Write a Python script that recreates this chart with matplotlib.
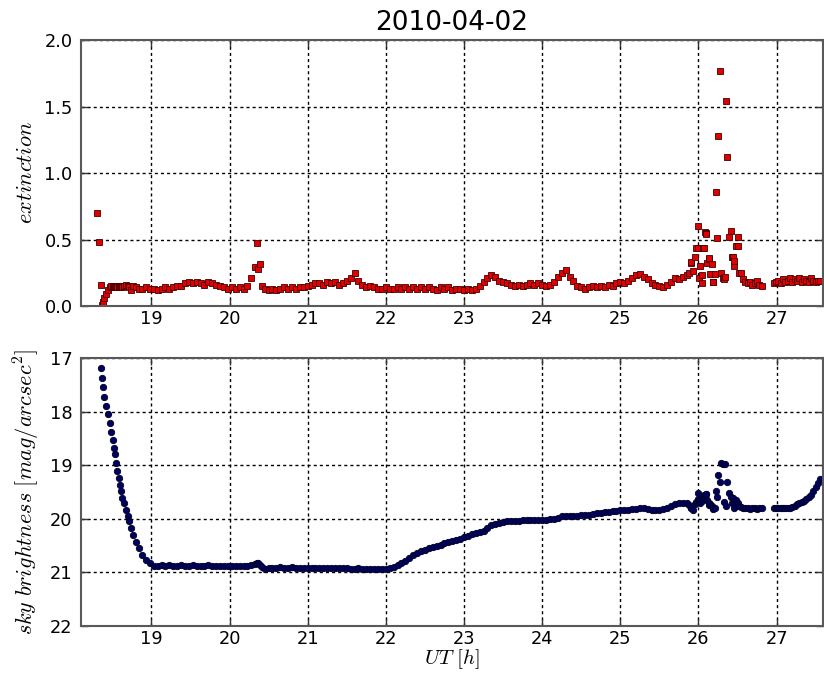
import numpy as np
import matplotlib
matplotlib.use("Agg")
import matplotlib.pyplot as plt

plt.rcParams['mathtext.fontset'] = 'cm'

title = "2010-04-02"

# UT time of each measurement [h]
ut = [
    18.30, 18.33, 18.36, 18.37, 18.385, 18.40, 18.42, 18.445, 18.47, 18.49,
    18.51, 18.525, 18.54, 18.55, 18.565, 18.58, 18.595, 18.615, 18.63, 18.65,
    18.675, 18.70, 18.72, 18.74, 18.77, 18.80, 18.84, 18.88, 18.93, 18.985,
    19.03, 19.08, 19.13, 19.18, 19.23, 19.28, 19.33, 19.38, 19.43, 19.48,
    19.53, 19.58, 19.63, 19.68, 19.73, 19.78, 19.83, 19.88, 19.93, 19.98,
    20.03, 20.08, 20.13, 20.18,
    20.23, 20.28, 20.32, 20.355, 20.37, 20.39, 20.41, 20.45,
    20.50, 20.55, 20.60, 20.65, 20.70, 20.75, 20.80, 20.85, 20.90, 20.95,
    21.00, 21.05, 21.10, 21.15, 21.20, 21.25, 21.30, 21.35, 21.40, 21.45,
    21.50, 21.55, 21.60, 21.65, 21.70, 21.75, 21.80, 21.85, 21.90, 21.95,
    22.00, 22.05, 22.10, 22.15, 22.20, 22.25, 22.30, 22.35, 22.40, 22.45,
    22.50, 22.55, 22.60, 22.65, 22.70, 22.75, 22.80, 22.85, 22.90, 22.95,
    23.00, 23.05, 23.10, 23.15, 23.20, 23.25, 23.30, 23.35, 23.40, 23.45,
    23.50, 23.55, 23.60, 23.65, 23.70, 23.75, 23.80, 23.85, 23.90, 23.95,
    24.00, 24.05, 24.10, 24.15, 24.20, 24.25, 24.30, 24.35, 24.40, 24.45,
    24.50, 24.55, 24.60, 24.65, 24.70, 24.75, 24.80, 24.85, 24.90, 24.95,
    25.00, 25.05, 25.10, 25.15, 25.20, 25.25, 25.30, 25.35, 25.40, 25.45,
    25.50, 25.55, 25.60, 25.65, 25.70, 25.75, 25.80, 25.85,
    25.88, 25.90, 25.91, 25.93, 25.95, 25.97, 25.99, 26.00, 26.01, 26.02,
    26.04, 26.05, 26.06, 26.07, 26.08, 26.09, 26.10, 26.11, 26.13, 26.14,
    26.15, 26.17, 26.18, 26.19, 26.21, 26.22, 26.24, 26.25, 26.27, 26.29,
    26.31, 26.33, 26.34, 26.35, 26.37, 26.39, 26.41, 26.43, 26.44, 26.45,
    26.46, 26.48, 26.50, 26.51, 26.52, 26.54,
    26.57, 26.60, 26.63, 26.66, 26.69, 26.72, 26.75, 26.78, 26.81,
    26.96, 26.99, 27.02, 27.05, 27.08, 27.11, 27.14, 27.17, 27.20, 27.23,
    27.26, 27.29, 27.32, 27.35, 27.38, 27.41, 27.44, 27.47, 27.50, 27.53,
    27.56,
]

extinction = [
    0.70, 0.48, 0.16, 0.01, 0.03, 0.06, 0.09, 0.12, 0.14, 0.15,
    0.15, 0.14, 0.15, 0.15, 0.14, 0.14, 0.15, 0.15, 0.14, 0.15,
    0.16, 0.15, 0.14, 0.12, 0.15, 0.14, 0.13, 0.13, 0.14, 0.13,
    0.13, 0.12, 0.13, 0.14, 0.13, 0.14, 0.15, 0.15, 0.17, 0.18,
    0.17, 0.18, 0.17, 0.16, 0.18, 0.17, 0.16, 0.15, 0.14, 0.13,
    0.14, 0.13, 0.14, 0.13,
    0.15, 0.21, 0.29, 0.476, 0.276, 0.316, 0.15, 0.13,
    0.12, 0.13, 0.12, 0.13, 0.14, 0.13, 0.14, 0.13, 0.14, 0.14,
    0.15, 0.16, 0.17, 0.17, 0.16, 0.18, 0.17, 0.18, 0.16, 0.17,
    0.19, 0.21, 0.25, 0.19, 0.16, 0.14, 0.15, 0.14, 0.13, 0.13,
    0.14, 0.13, 0.13, 0.14, 0.13, 0.14, 0.13, 0.14, 0.13, 0.14,
    0.13, 0.14, 0.13, 0.12, 0.14, 0.13, 0.14, 0.12, 0.13, 0.13,
    0.12, 0.13, 0.12, 0.13, 0.15, 0.18, 0.21, 0.23, 0.22, 0.19,
    0.18, 0.17, 0.16, 0.15, 0.16, 0.15, 0.16, 0.17, 0.16, 0.17,
    0.16, 0.15, 0.16, 0.18, 0.22, 0.25, 0.27, 0.22, 0.19, 0.15,
    0.14, 0.13, 0.14, 0.15, 0.14, 0.15, 0.14, 0.16, 0.15, 0.17,
    0.18, 0.17, 0.19, 0.21, 0.23, 0.24, 0.22, 0.20, 0.17, 0.16,
    0.15, 0.14, 0.16, 0.18, 0.21, 0.20, 0.22, 0.23,
    0.25, 0.325, 0.33, 0.26, 0.37, 0.44, 0.44, 0.60, 0.21, 0.30,
    0.23, 0.175, 0.44, 0.44, 0.56, 0.55, 0.545, 0.32, 0.35, 0.36,
    0.24, 0.315, 0.18, 0.18, 0.24, 0.855, 0.51, 1.28, 1.77, 0.25,
    0.21, 0.20, 0.22, 1.54, 1.12, 0.52, 0.565, 0.37, 0.37, 0.30,
    0.34, 0.45, 0.45, 0.52, 0.25, 0.25,
    0.20, 0.18, 0.17, 0.18, 0.16, 0.17, 0.19, 0.16, 0.15,
    0.17, 0.18, 0.19, 0.17, 0.20, 0.18, 0.19, 0.21, 0.18, 0.20,
    0.19, 0.21, 0.18, 0.20, 0.19, 0.18, 0.21, 0.19, 0.18, 0.19,
    0.19,
]

# sky brightness [mag/arcsec^2]; first two are off the plotted range
sky = [
    np.nan, np.nan, 17.18, 17.38, 17.55, 17.72, 17.90, 18.04, 18.21, 18.375,
    18.53, 18.67, 18.80, 18.96, 19.11, 19.23, 19.37, 19.49, 19.61, 19.71,
    19.84, 19.95, 20.05, 20.18, 20.30, 20.43, 20.55, 20.68, 20.77, 20.83,
    20.88, 20.88, 20.87, 20.88, 20.87, 20.88, 20.88, 20.87, 20.88, 20.88,
    20.87, 20.88, 20.88, 20.88, 20.87, 20.88, 20.88, 20.89, 20.88, 20.88,
    20.89, 20.88, 20.88, 20.88,
    20.88, 20.87, 20.85, 20.83, 20.82, 20.86, 20.90, 20.94,
    20.92, 20.91, 20.91, 20.90, 20.91, 20.91, 20.90, 20.91, 20.92, 20.92,
    20.91, 20.91, 20.92, 20.91, 20.92, 20.92, 20.91, 20.92, 20.92, 20.92,
    20.92, 20.93, 20.93, 20.92, 20.93, 20.93, 20.94, 20.93, 20.93, 20.94,
    20.93, 20.92, 20.90, 20.87, 20.83, 20.78, 20.73, 20.67, 20.64, 20.61,
    20.58, 20.55, 20.52, 20.50, 20.48, 20.46, 20.44, 20.42, 20.40, 20.37,
    20.34, 20.32, 20.29, 20.27, 20.25, 20.22, 20.17, 20.12, 20.09, 20.07,
    20.06, 20.05, 20.05, 20.04, 20.04, 20.03, 20.03, 20.03, 20.02, 20.02,
    20.02, 20.02, 20.01, 20.00, 19.98, 19.95, 19.95, 19.95, 19.94, 19.94,
    19.93, 19.93, 19.92, 19.91, 19.90, 19.89, 19.88, 19.87, 19.86, 19.85,
    19.84, 19.84, 19.83, 19.82, 19.81, 19.80, 19.79, 19.81, 19.83, 19.84,
    19.83, 19.82, 19.79, 19.76, 19.72, 19.71, 19.70, 19.71,
    19.74, 19.79, 19.80, 19.84, 19.72, 19.68, 19.63, 19.51, 19.66, 19.70,
    19.58, 19.66, 19.62, 19.55, 19.60, 19.53, 19.54, 19.65, 19.70, 19.74,
    19.72, 19.76, 19.80, 19.82, 19.80, 19.48, 19.60, 19.18, 19.31, 18.96,
    18.97, 19.68, 18.98, 19.76, 19.32, 19.51, 19.60, 19.70, 19.62, 19.79,
    19.68, 19.65, 19.74, 19.70, 19.76, 19.78,
    19.79, 19.80, 19.80, 19.81, 19.80, 19.80, 19.81, 19.80, 19.80,
    19.80, 19.80, 19.80, 19.80, 19.80, 19.80, 19.80, 19.79, 19.78, 19.76,
    19.73, 19.71, 19.69, 19.67, 19.64, 19.60, 19.55, 19.48, 19.41, 19.33,
    19.25,
]

x_ticks = [19, 20, 21, 22, 23, 24, 25, 26, 27]

fig = plt.figure(figsize=(8.24, 6.76), dpi=100)
ax1 = fig.add_axes([0.0983, 0.5473, 0.9002, 0.3935])
ax2 = fig.add_axes([0.0983, 0.0740, 0.9002, 0.3964])

ax1.plot(ut, extinction, 's', ms=4.5, mfc='#e00000', mec='#400000', mew=0.6)
ax2.plot(ut, sky, 'o', ms=4.6, mfc='#000060', mec='#000020', mew=0.6)

for ax in (ax1, ax2):
    ax.set_xlim(18.1, 27.59)
    ax.set_xticks(x_ticks)
    ax.grid(True, color='black', linestyle=(0, (2.2, 2.2)), linewidth=1.0)
    ax.tick_params(direction='in', top=True, right=True, length=5,
                   width=1, labelsize=12.8, pad=6, color='0.2')
    ax.tick_params(axis='x', pad=3)
    for s in ax.spines.values():
        s.set_color('0.35')
        s.set_linewidth(1.5)

ax1.set_ylim(0, 2.0)
ax1.set_yticks([0.0, 0.5, 1.0, 1.5, 2.0])
ax1.set_yticklabels(['0.0', '0.5', '1.0', '1.5', '2.0'])
ax1.set_ylabel(r'$extinction$', fontsize=16, labelpad=6)
ax1.set_title(title, fontsize=19, pad=7)

ax2.set_ylim(22, 17)
ax2.set_yticks([17, 18, 19, 20, 21, 22])
ax2.set_ylabel(r'$sky\ brightness\ [mag/arcsec^2]$', fontsize=16, labelpad=6)
ax2.set_xlabel(r'$UT\ [h]$', fontsize=15, labelpad=-1)

fig.savefig('out.png', dpi=100)
